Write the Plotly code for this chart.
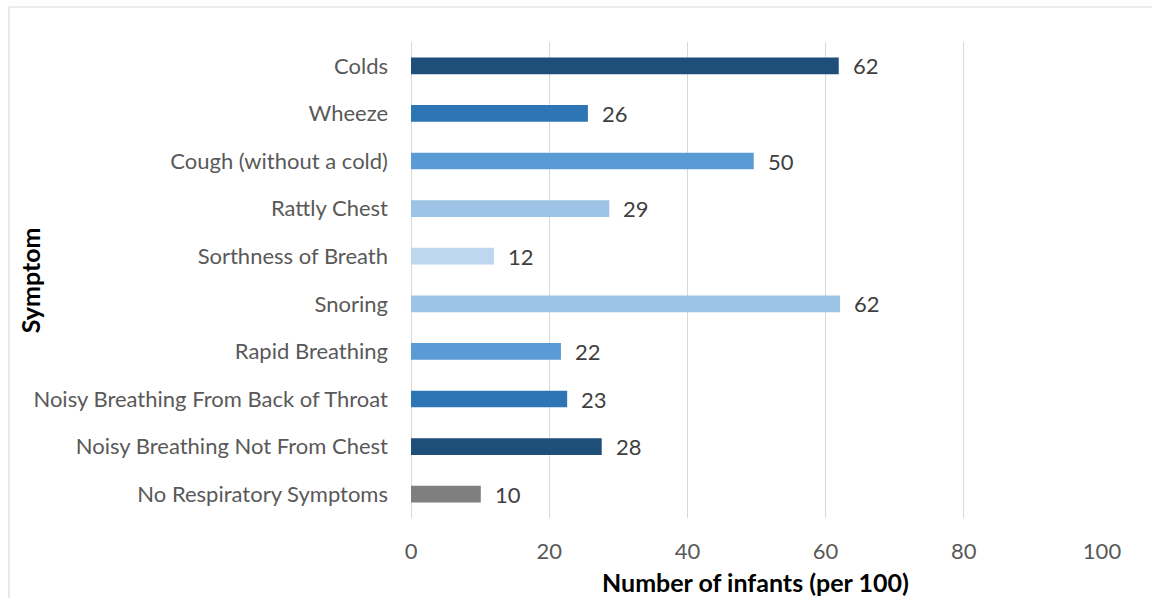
import plotly.graph_objects as go

# symptoms, top to bottom as in the chart
symptoms = [
    "Colds",
    "Wheeze",
    "Cough (without a cold)",
    "Rattly Chest",
    "Sorthness of Breath",
    "Snoring",
    "Rapid Breathing",
    "Noisy Breathing From Back of Throat",
    "Noisy Breathing Not From Chest",
    "No Respiratory Symptoms",
]
infants = [61.9, 25.6, 49.6, 28.7, 12.0, 62.1, 21.7, 22.6, 27.6, 10.1]
bar_colors = [
    "#1f4e79", "#2e75b6", "#5b9bd5", "#9dc3e6", "#bdd7ee",
    "#9dc3e6", "#5b9bd5", "#2e75b6", "#1f4e79", "#7f7f7f",
]
x_ticks = [0, 20, 40, 60, 80, 100]

FONT = "Lato"
SIZE = 22
TITLE_SIZE = 25

fig = go.Figure()

fig.add_trace(go.Bar(
    x=infants,
    y=symptoms,
    orientation="h",
    marker=dict(color=bar_colors, line=dict(width=0)),
    width=0.35,
    hoverinfo="x+y",
    showlegend=False,
))

# value labels to the right of each bar
for val, sym in zip(infants, symptoms):
    fig.add_annotation(
        x=val, y=sym, xref="x", yref="y",
        text=f"{val:.0f}",
        showarrow=False,
        xanchor="left",
        xshift=12,
        font=dict(family=FONT, size=SIZE, color="#404040"),
    )

# axis titles
fig.add_annotation(
    x=0.499, y=-0.134, xref="paper", yref="paper",
    text="<b>Number of infants (per 100)</b>",
    showarrow=False, xanchor="center", yanchor="middle",
    font=dict(family=FONT, size=TITLE_SIZE, color="black"),
)
fig.add_annotation(
    x=-0.551, y=0.5, xref="paper", yref="paper",
    text="<b>Symptom</b>",
    textangle=-90,
    showarrow=False, xanchor="center", yanchor="middle",
    font=dict(family=FONT, size=TITLE_SIZE, color="black"),
)

# chart border (only top and left edges are inside the crop)
border = dict(color="#d9d9d9", width=1.2)
fig.add_shape(type="line", xref="paper", yref="paper",
              x0=-0.5818, x1=1.5, y0=1.0735, y1=1.0735,
              line=border, layer="below")
fig.add_shape(type="line", xref="paper", yref="paper",
              x0=-0.5818, x1=-0.5818, y0=-0.5, y1=1.0735,
              line=border, layer="below")

fig.update_layout(
    width=1152,
    height=598,
    margin=dict(l=411, r=50, t=42, b=80),
    paper_bgcolor="white",
    plot_bgcolor="white",
    font=dict(family=FONT, size=SIZE, color="#595959"),
    xaxis=dict(
        range=[0, 100],
        tickvals=x_ticks,
        showgrid=True,
        gridcolor="#d9d9d9",
        gridwidth=1.3,
        zeroline=True,
        zerolinecolor="#d9d9d9",
        zerolinewidth=1.3,
        showline=False,
        ticks="",
        ticklabelstandoff=18,
        tickfont=dict(family=FONT, size=SIZE, color="#595959"),
        fixedrange=True,
    ),
    yaxis=dict(
        categoryorder="array",
        categoryarray=symptoms[::-1],
        showgrid=False,
        zeroline=False,
        showline=False,
        ticks="",
        ticklabelstandoff=22,
        tickfont=dict(family=FONT, size=SIZE, color="#595959"),
        fixedrange=True,
    ),
)

# drop the default 8px page margin so the figure fills the window exactly
fig.write_html(
    "out.html",
    config={"displayModeBar": False},
    post_script="document.body.style.margin='0';document.body.style.overflow='hidden';",
)
